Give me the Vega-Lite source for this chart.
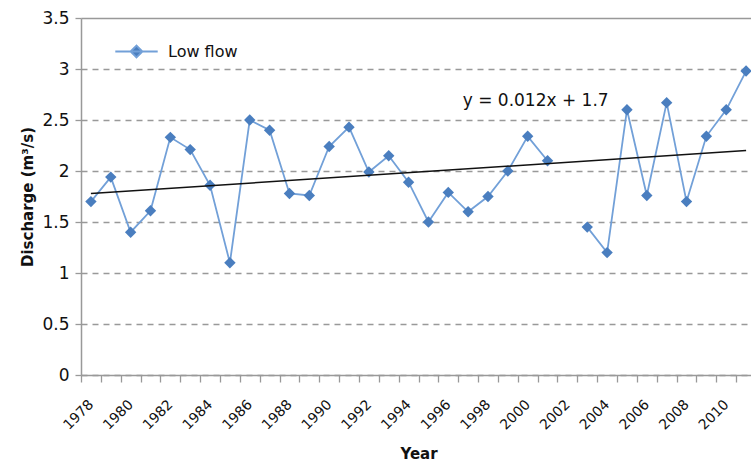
{
  "$schema": "https://vega.github.io/schema/vega-lite/v6.json",
  "width": 675,
  "height": 357,
  "padding": {"left": 20, "top": 9, "right": 0, "bottom": 0},
  "background": "white",
  "config": {
    "view": {"stroke": null},
    "font": "DejaVu Sans",
    "axis": {"labelFont": "DejaVu Sans", "titleFont": "DejaVu Sans", "labelColor": "#111", "titleColor": "#111"}
  },
  "datasets": {
    "flow": [
      {"year": 1978, "q": 1.70, "series": "Low flow"},
      {"year": 1979, "q": 1.94, "series": "Low flow"},
      {"year": 1980, "q": 1.40, "series": "Low flow"},
      {"year": 1981, "q": 1.61, "series": "Low flow"},
      {"year": 1982, "q": 2.33, "series": "Low flow"},
      {"year": 1983, "q": 2.21, "series": "Low flow"},
      {"year": 1984, "q": 1.86, "series": "Low flow"},
      {"year": 1985, "q": 1.10, "series": "Low flow"},
      {"year": 1986, "q": 2.50, "series": "Low flow"},
      {"year": 1987, "q": 2.40, "series": "Low flow"},
      {"year": 1988, "q": 1.78, "series": "Low flow"},
      {"year": 1989, "q": 1.76, "series": "Low flow"},
      {"year": 1990, "q": 2.24, "series": "Low flow"},
      {"year": 1991, "q": 2.43, "series": "Low flow"},
      {"year": 1992, "q": 1.99, "series": "Low flow"},
      {"year": 1993, "q": 2.15, "series": "Low flow"},
      {"year": 1994, "q": 1.89, "series": "Low flow"},
      {"year": 1995, "q": 1.50, "series": "Low flow"},
      {"year": 1996, "q": 1.79, "series": "Low flow"},
      {"year": 1997, "q": 1.60, "series": "Low flow"},
      {"year": 1998, "q": 1.75, "series": "Low flow"},
      {"year": 1999, "q": 2.00, "series": "Low flow"},
      {"year": 2000, "q": 2.34, "series": "Low flow"},
      {"year": 2001, "q": 2.10, "series": "Low flow"},
      {"year": 2002, "q": null, "series": "Low flow"},
      {"year": 2003, "q": 1.45, "series": "Low flow"},
      {"year": 2004, "q": 1.20, "series": "Low flow"},
      {"year": 2005, "q": 2.60, "series": "Low flow"},
      {"year": 2006, "q": 1.76, "series": "Low flow"},
      {"year": 2007, "q": 2.67, "series": "Low flow"},
      {"year": 2008, "q": 1.70, "series": "Low flow"},
      {"year": 2009, "q": 2.34, "series": "Low flow"},
      {"year": 2010, "q": 2.60, "series": "Low flow"},
      {"year": 2011, "q": 2.98, "series": "Low flow"}
    ],
    "trend": [
      {"year": 1978, "q": 1.78},
      {"year": 2011, "q": 2.20}
    ]
  },
  "encoding": {
    "x": {
      "field": "year", "type": "ordinal",
      "scale": {"type": "band", "paddingInner": 0, "paddingOuter": 0,
        "domain": [1978,1979,1980,1981,1982,1983,1984,1985,1986,1987,1988,1989,1990,1991,1992,1993,1994,1995,1996,1997,1998,1999,2000,2001,2002,2003,2004,2005,2006,2007,2008,2009,2010,2011]},
      "axis": {
        "title": "Year", "titleFontSize": 15, "titleFontWeight": "bold", "titlePadding": 14,
        "labelAngle": -45, "labelFontSize": 14, "labelAlign": "right", "labelBaseline": "middle",
        "labelExpr": "datum.value % 2 == 0 ? datum.label : ''",
        "tickBand": "extent", "tickSize": 7, "tickColor": "#999", "domainColor": "#999", "domainWidth": 1.5, "tickWidth": 1.3,
        "labelPadding": 20, "labelOverlap": false
      }
    },
    "y": {
      "field": "q", "type": "quantitative",
      "scale": {"domain": [0, 3.5], "nice": false},
      "axis": {
        "title": "Discharge  (m³/s)", "titleFontSize": 15, "titleFontWeight": "bold", "titlePadding": 6,
        "values": [0, 0.5, 1, 1.5, 2, 2.5, 3, 3.5], "format": "~g", "labelFontSize": 17,
        "grid": true, "gridColor": "#999", "gridWidth": 1.3,
        "gridDash": {"condition": {"test": "datum.value == 3.5", "value": []}, "value": [6, 5]},
        "tickSize": 6, "tickColor": "#999", "domainColor": "#999", "domainWidth": 1.5, "tickWidth": 1.3, "labelPadding": 6
      }
    }
  },
  "layer": [
    {
      "data": {"name": "flow"},
      "mark": {"type": "line", "strokeWidth": 1.8, "invalid": "break-paths-show-domains"},
      "encoding": {
        "color": {
          "field": "series", "type": "nominal",
          "scale": {"range": ["#72A0D8"]},
          "legend": {
            "title": null, "orient": "none", "legendX": 33, "legendY": 11, "padding": 0,
            "labelFontSize": 16, "labelFont": "DejaVu Sans", "labelColor": "#111",
            "symbolType": "M-1,0H1M-0.28,0L0,-0.28L0.28,0L0,0.28Z",
            "symbolSize": 1800, "symbolStrokeWidth": 1.8, "symbolFillColor": "#4A7EBF", "symbolStrokeColor": "#72A0D8",
            "labelOffset": 9
          }
        }
      }
    },
    {
      "data": {"name": "flow"},
      "mark": {"type": "point", "shape": "diamond", "filled": true, "size": 130, "color": "#4A7EBF", "opacity": 1}
    },
    {
      "data": {"name": "trend"},
      "mark": {"type": "line", "color": "#111", "strokeWidth": 1.5}
    },
    {
      "data": {"values": [{"label": "y = 0.012x + 1.7", "year": 2000, "q": 2.69}]},
      "mark": {"type": "text", "fontSize": 17, "color": "#111", "align": "center", "dx": 8},
      "encoding": {
        "text": {"field": "label"}
      }
    }
  ]
}
